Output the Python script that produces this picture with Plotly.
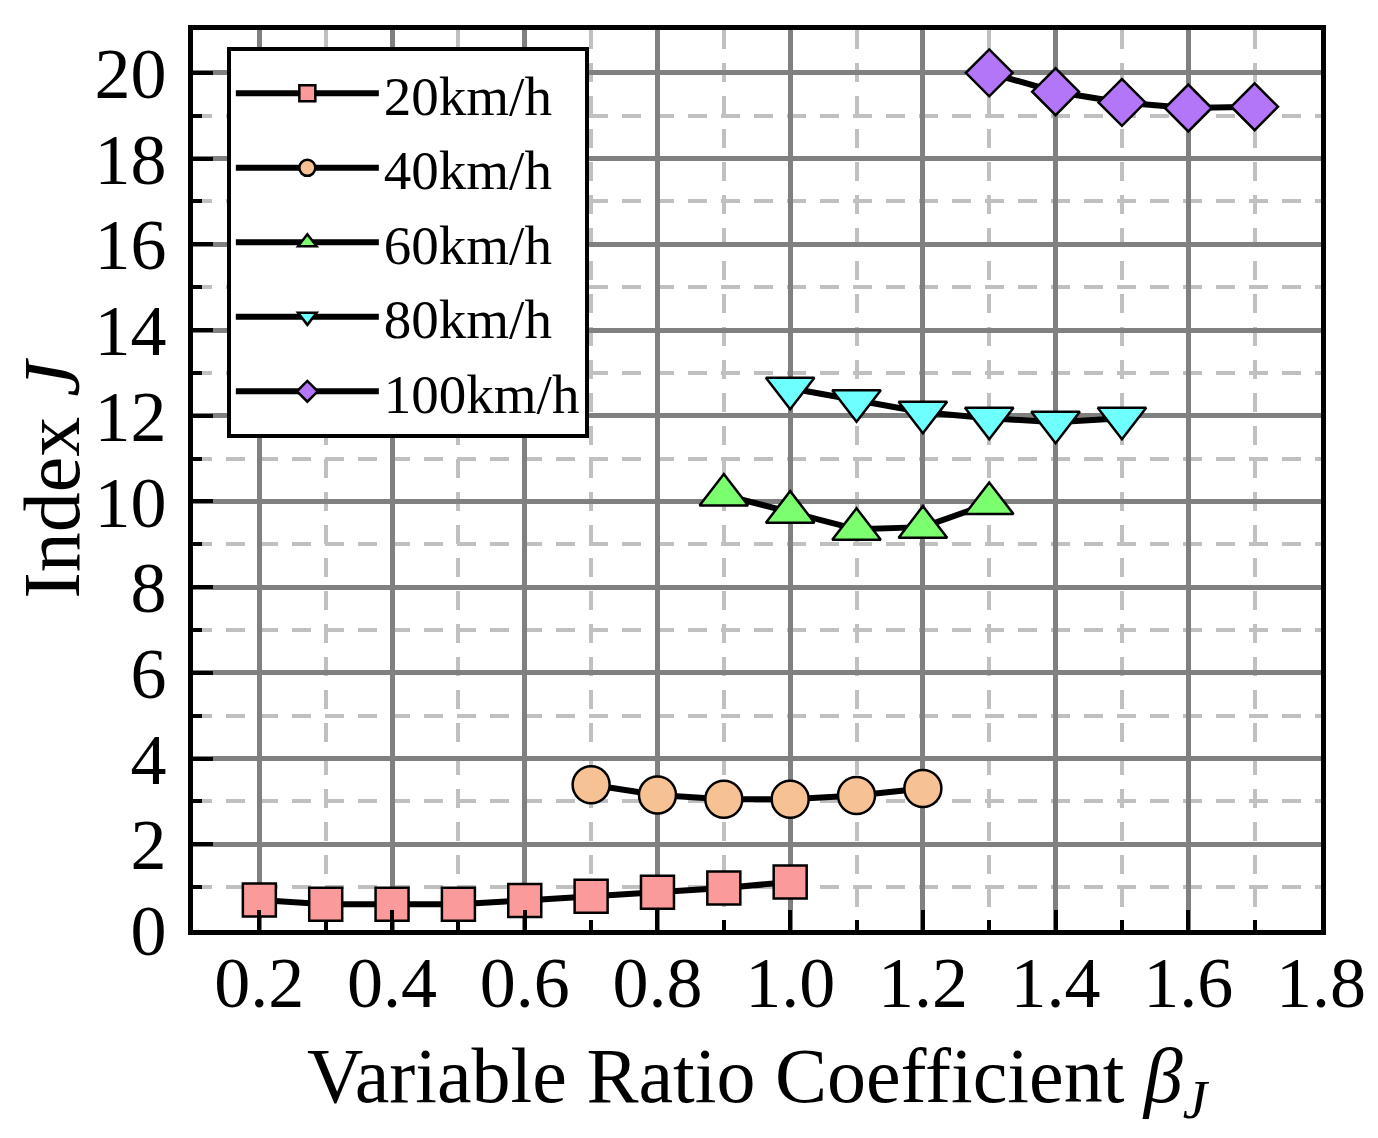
import plotly.graph_objects as go

# ---------- data ----------
SPEEDS = ["20km/h", "40km/h", "60km/h", "80km/h", "100km/h"]

x20 = [0.2, 0.3, 0.4, 0.5, 0.6, 0.7, 0.8, 0.9, 1.0]
y20 = [0.70, 0.60, 0.60, 0.60, 0.69, 0.79, 0.88, 0.98, 1.12]

x40 = [0.7, 0.8, 0.9, 1.0, 1.1, 1.2]
y40 = [3.39, 3.15, 3.05, 3.05, 3.14, 3.30]

x60 = [0.9, 1.0, 1.1, 1.2, 1.3]
y60 = [10.15, 9.75, 9.35, 9.40, 9.95]

x80 = [1.0, 1.1, 1.2, 1.3, 1.4, 1.5]
y80 = [12.64, 12.35, 12.08, 11.94, 11.85, 11.94]

x100 = [1.3, 1.4, 1.5, 1.6, 1.7]
y100 = [20.0, 19.56, 19.31, 19.18, 19.21]

XS = [x20, x40, x60, x80, x100]
YS = [y20, y40, y60, y80, y100]

# ---------- styling ----------
SYMBOLS = ["square", "circle", "triangle-up", "triangle-down", "diamond"]
FILLS   = ["#FA9A9A", "#F6C294", "#7CFF6E", "#6EFFFF", "#B476F8"]
SIZES   = [33, 37, 42, 42, 36]
FONT    = "Liberation Serif"

fig = go.Figure()
for name, xs, ys, sym, col, sz in zip(SPEEDS, XS, YS, SYMBOLS, FILLS, SIZES):
    fig.add_trace(go.Scatter(
        x=xs, y=ys, name=name,
        mode="lines+markers",
        line=dict(color="black", width=6),
        marker=dict(symbol=sym, size=sz, color=col,
                    line=dict(color="black", width=2.5)),
    ))

axis_common = dict(
    showline=True, linecolor="black", linewidth=5, mirror=True,
    ticks="inside", ticklen=20, tickwidth=4, tickcolor="black",
    showgrid=True, gridcolor="#808080", gridwidth=4.5,
    zeroline=False, layer="above traces",
    tickfont=dict(family=FONT, size=72, color="black"),
)

fig.update_xaxes(
    **axis_common,
    range=[0.1, 1.8], tick0=0.2, dtick=0.2, tickformat=".1f",
    ticklabelstandoff=-14,
    minor=dict(tick0=0.1, dtick=0.1, ticks="inside", ticklen=10,
               tickwidth=4, tickcolor="black", showgrid=True,
               gridcolor="#C0C0C0", gridwidth=4, griddash="19px,14px"),
    title=dict(text="Variable Ratio Coefficient <i>β</i><sub><i>J</i></sub>",
               font=dict(family=FONT, size=78, color="black"), standoff=26),
)
fig.update_yaxes(
    **axis_common,
    range=[0, 21], tick0=0, dtick=2,
    ticklabelstandoff=7,
    minor=dict(tick0=0, dtick=1, ticks="inside", ticklen=9,
               tickwidth=4, tickcolor="black", showgrid=True,
               gridcolor="#C0C0C0", gridwidth=4, griddash="19px,14px"),
    title=dict(text="Index <i>J</i>",
               font=dict(family=FONT, size=80, color="black"), standoff=0),
)

fig.update_layout(
    width=1370, height=1130,
    margin=dict(l=185, r=57, t=22, b=208),
    paper_bgcolor="white", plot_bgcolor="white",
    font=dict(family=FONT, color="black"),
    showlegend=True,
    legend=dict(x=0.03, y=0.981, xanchor="left", yanchor="top",
                bgcolor="white", bordercolor="black", borderwidth=4,
                font=dict(family=FONT, size=55, color="black"),
                itemwidth=143),
)

fig.write_html("out.html")
